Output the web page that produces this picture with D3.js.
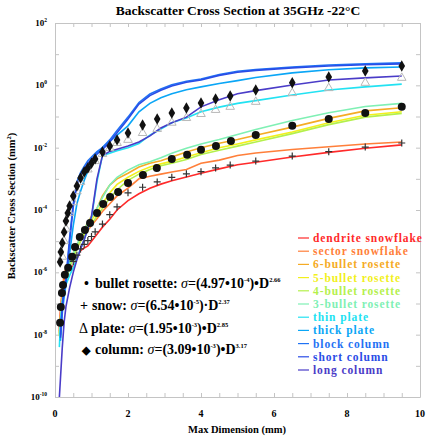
<!DOCTYPE html>
<html>
<head>
<meta charset="utf-8">
<script src="https://cdn.jsdelivr.net/npm/d3@7"></script>
<style>
  html, body { margin: 0; padding: 0; background: #fff; }
  svg { display: block; }
  text { font-family: "Liberation Serif", "Times New Roman", serif; }
</style>
</head>
<body>
<svg id="chart" width="431" height="439"></svg>
<script>
// ---- Data: log10 of backscatter cross section (mm^2) versus max dimension D (mm) ----
const lineD = [0.12,0.15,0.2,0.25,0.3,0.4,0.5,0.6,0.7,0.8,0.9,1.0,1.15,1.3,1.5,1.7,2.0,2.3,2.6,2.9,3.2,3.6,4.0,4.5,5.0,5.5,6.5,7.5,8.5,9.5];

const dendriteLog = [-7.9,-7.3,-6.6,-6.25,-6.05,-5.9,-5.78,-5.55,-5.3,-5.22,-5.15,-5.0,-4.78,-4.55,-4.3,-4.0,-3.7,-3.48,-3.3,-3.17,-3.06,-2.94,-2.82,-2.68,-2.55,-2.47,-2.3,-2.15,-2.02,-1.91];
const sectorLog   = [-7.8,-7.2,-6.5,-6.1,-5.85,-5.6,-5.4,-5.2,-5.0,-4.82,-4.65,-4.5,-4.28,-4.05,-3.8,-3.55,-3.3,-3.0,-2.92,-2.85,-2.78,-2.7,-2.5,-2.4,-2.25,-2.17,-2.06,-1.97,-1.88,-1.82];
const bullet6Log  = [-7.95,-7.45,-6.85,-6.45,-6.18,-5.75,-5.42,-5.15,-4.88,-4.62,-4.4,-4.2,-3.95,-3.55,-3.2,-3.0,-2.82,-2.62,-2.5,-2.42,-2.3,-2.14,-2.0,-1.86,-1.74,-1.6,-1.34,-1.06,-0.82,-0.72];
const bullet5Log  = [-8.0,-7.5,-6.9,-6.5,-6.22,-5.8,-5.48,-5.2,-4.94,-4.72,-4.5,-4.32,-4.08,-3.8,-3.45,-3.18,-2.95,-2.76,-2.62,-2.52,-2.44,-2.3,-2.16,-2.0,-1.88,-1.75,-1.5,-1.2,-0.96,-0.85];
const bullet4Log  = [-8.05,-7.55,-6.95,-6.55,-6.28,-5.85,-5.52,-5.25,-5.0,-4.8,-4.6,-4.45,-4.2,-3.95,-3.62,-3.35,-3.05,-2.85,-2.7,-2.58,-2.5,-2.38,-2.22,-2.08,-1.95,-1.82,-1.55,-1.26,-1.02,-0.9];
const bullet3Log  = [-8.0,-7.5,-6.9,-6.5,-6.2,-5.72,-5.4,-5.12,-4.85,-4.62,-4.42,-4.22,-3.95,-3.6,-3.2,-2.95,-2.72,-2.55,-2.45,-2.32,-2.18,-2.02,-1.88,-1.74,-1.58,-1.42,-1.13,-0.88,-0.68,-0.58];
const thinPlateLog  = [-8.4,-7.6,-7.0,-6.6,-6.4,-6.1,-5.85,-5.55,-5.25,-4.95,-4.6,-4.25,-3.1,-2.25,-2.18,-2.1,-2.0,-1.87,-1.6,-1.4,-1.2,-1.05,-0.85,-0.7,-0.58,-0.49,-0.31,-0.15,-0.05,0.04];
const thickPlateLog = [null,-8.2,-7.3,-6.8,-6.4,-5.4,-4.5,-3.8,-3.4,-3.05,-2.75,-2.5,-2.2,-2.0,-1.8,-1.6,-1.3,-0.85,-0.58,-0.4,-0.27,-0.14,-0.05,0.06,0.15,0.25,0.4,0.5,0.56,0.59];
const blockColLog   = [null,-8.0,-7.0,-6.5,-6.2,-4.9,-3.8,-3.1,-2.8,-2.6,-2.42,-2.3,-2.13,-2.0,-1.75,-1.45,-1.02,-0.55,-0.28,-0.12,0.02,0.13,0.2,0.35,0.45,0.51,0.59,0.65,0.69,0.72];
const shortColLog   = [null,-8.1,-7.1,-6.6,-6.3,-5.0,-3.9,-3.2,-2.88,-2.68,-2.5,-2.37,-2.2,-2.06,-1.82,-1.52,-1.08,-0.6,-0.33,-0.16,-0.02,0.1,0.17,0.32,0.42,0.48,0.56,0.62,0.66,0.69];
const longColLog    = [-10.0,-9.4,-8.4,-7.6,-7.1,-6.5,-6.0,-5.6,-5.25,-4.95,-4.6,-4.2,-3.0,-2.25,-2.12,-2.05,-1.95,-1.82,-1.62,-1.37,-1.2,-1.02,-0.69,-0.46,-0.27,-0.17,0.01,0.17,0.24,0.30];

const lineNames  = ["dendrite snowflake","sector snowflake","6-bullet rosette","5-bullet rosette","4-bullet rosette","3-bullet rosette","thin plate","thick plate","block column","short column","long column"];
const lineColors = ["#ff2a2a","#ff7f3a","#f5ab25","#f2f01c","#b4f04c","#7ff0b4","#22e2f2","#0aa6f6","#1f72f4","#2a4ce6","#4a3cc8"];
const lineLogs   = [dendriteLog,sectorLog,bullet6Log,bullet5Log,bullet4Log,bullet3Log,thinPlateLog,thickPlateLog,blockColLog,shortColLog,longColLog];

// averaged habit groups (markers)
const rosetteD   = [0.14,0.16,0.19,0.22,0.27,0.36,0.47,0.55,0.68,0.82,0.96,1.15,1.32,1.51,1.73,2.0,2.41,2.79,3.2,3.62,4.0,4.41,4.82,5.5,6.5,7.5,8.5,9.5];
const rosetteLog = [-7.62,-7.11,-6.66,-6.41,-6.08,-5.85,-5.5,-5.19,-4.87,-4.64,-4.42,-4.1,-3.81,-3.58,-3.42,-3.13,-2.88,-2.65,-2.36,-2.23,-2.07,-1.95,-1.79,-1.59,-1.3,-1.08,-0.89,-0.69];
const snowD      = [0.5,0.6,0.7,0.8,0.9,1.0,1.1,1.3,1.5,1.7,2.0,2.4,2.8,3.2,3.6,4.0,4.4,4.8,5.5,6.5,7.5,8.5,9.5];
const snowLog    = [-5.65,-5.45,-5.25,-5.1,-4.98,-4.85,-4.7,-4.45,-4.15,-3.9,-3.45,-3.27,-3.1,-2.95,-2.84,-2.77,-2.65,-2.56,-2.43,-2.27,-2.13,-1.98,-1.85];
const plateD     = [0.2,0.25,0.3,0.4,0.5,0.6,0.7,0.9,1.1,1.3,1.5,1.7,2.0,2.4,2.8,3.2,3.6,4.0,4.4,4.8,5.5,6.5,7.5,8.5,9.5];
const plateLog   = [-5.5,-5.0,-4.6,-4.1,-3.75,-3.4,-3.1,-2.7,-2.43,-2.2,-2.01,-1.85,-1.75,-1.53,-1.4,-1.2,-1.05,-0.92,-0.79,-0.69,-0.53,-0.25,-0.09,0.08,0.24];
const columnD    = [0.14,0.16,0.2,0.25,0.3,0.35,0.4,0.5,0.6,0.7,0.8,0.9,1.0,1.1,1.3,1.5,1.7,2.0,2.4,2.8,3.2,3.6,4.0,4.4,4.8,5.5,6.5,7.5,8.5,9.5];
const columnLog  = [-5.67,-5.35,-5.06,-4.71,-4.35,-4.1,-3.87,-3.55,-3.23,-2.97,-2.78,-2.65,-2.5,-2.36,-2.14,-1.95,-1.75,-1.53,-1.27,-1.08,-0.89,-0.73,-0.57,-0.44,-0.34,-0.15,0.08,0.27,0.46,0.62];

const xTicks      = [0,2,4,6,8,10];
const yTickPowers = [2,0,-2,-4,-6,-8,-10];

(function draw() {
  const svg = d3.select("#chart");
  const mLeft = 55, mRight = 420, mTop = 23, mBottom = 397;
  const x = d3.scaleLinear().domain([0,10]).range([mLeft,mRight]);
  const y = d3.scaleLog().domain([1e-10,1e2]).range([mBottom,mTop]);
  const yv = L => y(Math.pow(10, L));

  svg.append("defs").append("clipPath").attr("id","plotClip")
    .append("rect").attr("x",mLeft).attr("y",mTop).attr("width",mRight-mLeft).attr("height",mBottom-mTop);

  // frame and inward ticks
  const frameColor = "#c4c4c4";
  const minorX = d3.range(0, 10.001, 0.5);
  const decades = d3.range(-10, 3).map(p => Math.pow(10,p));
  svg.append("g").attr("transform",`translate(0,${mBottom})`)
    .call(d3.axisBottom(x).tickValues(minorX).tickSizeInner(-4).tickSizeOuter(0).tickFormat(""));
  svg.append("g").attr("transform",`translate(0,${mTop})`)
    .call(d3.axisTop(x).tickValues(minorX).tickSizeInner(-4).tickSizeOuter(0).tickFormat(""));
  svg.append("g").attr("transform",`translate(${mLeft},0)`)
    .call(d3.axisLeft(y).tickValues(decades).tickSizeInner(-4).tickSizeOuter(0).tickFormat(""));
  svg.append("g").attr("transform",`translate(${mRight},0)`)
    .call(d3.axisRight(y).tickValues(decades).tickSizeInner(-4).tickSizeOuter(0).tickFormat(""));
  svg.selectAll(".domain, .tick line").attr("stroke", frameColor);

  // tick labels
  svg.append("g").selectAll("text").data(xTicks).join("text")
    .attr("x", d => x(d)).attr("y", 417)
    .attr("text-anchor","middle").attr("font-size",10).attr("font-weight","bold")
    .text(d => d);
  const yl = svg.append("g").selectAll("text").data(yTickPowers).join("text")
    .attr("x", 47).attr("y", d => yv(d) + 3)
    .attr("text-anchor","end").attr("font-size",9).attr("font-weight","bold");
  yl.append("tspan").text("10");
  yl.append("tspan").attr("font-size",5.5).attr("dy",-4).text(d => d);

  // title and axis titles
  svg.append("text").attr("x",238).attr("y",15).attr("text-anchor","middle")
    .attr("font-size",13.5).attr("font-weight","bold").text("Backscatter Cross Section at 35GHz -22°C");
  svg.append("text").attr("x",237).attr("y",433).attr("text-anchor","middle")
    .attr("font-size",10.5).attr("font-weight","bold").text("Max Dimension (mm)");
  const ylab = svg.append("text").attr("transform","translate(15,206) rotate(-90)")
    .attr("text-anchor","middle").attr("font-size",10.5).attr("font-weight","bold");
  ylab.append("tspan").text("Backscatter Cross Section (mm");
  ylab.append("tspan").attr("font-size",6.5).attr("dy",-4).text("2");
  ylab.append("tspan").attr("dy",4).text(")");

  // curves
  const plot = svg.append("g").attr("clip-path","url(#plotClip)");
  const line = d3.line()
    .defined(d => d.L !== null)
    .x(d => x(d.D)).y(d => yv(d.L));
  lineLogs.forEach((vals, i) => {
    plot.append("path")
      .datum(lineD.map((D, k) => ({D, L: vals[k]})))
      .attr("d", line)
      .attr("fill","none").attr("stroke", lineColors[i]).attr("stroke-width",1.6);
  });

  // markers
  const pts = (Ds, Ls) => Ds.map((D,k) => ({D, L: Ls[k]}));
  plot.append("g").selectAll("path").data(pts(plateD, plateLog)).join("path")
    .attr("transform", d => `translate(${x(d.D)},${yv(d.L)})`)
    .attr("d", d3.symbol().type(d3.symbolTriangle).size(32))
    .attr("fill","none").attr("stroke","#b8b8b8").attr("stroke-width",1);
  plot.append("g").selectAll("path").data(pts(snowD, snowLog)).join("path")
    .attr("transform", d => `translate(${x(d.D)},${yv(d.L)})`)
    .attr("d", "M-3.5,0H3.5M0,-3.5V3.5")
    .attr("stroke","#333").attr("stroke-width",1.2);
  plot.append("g").selectAll("path").data(pts(columnD, columnLog)).join("path")
    .attr("transform", d => `translate(${x(d.D)},${yv(d.L)})`)
    .attr("d", d3.symbol().type(d3.symbolDiamond).size(38))
    .attr("fill","#111");
  plot.append("g").selectAll("circle").data(pts(rosetteD, rosetteLog)).join("circle")
    .attr("cx", d => x(d.D)).attr("cy", d => yv(d.L)).attr("r",4)
    .attr("fill","#111");

  // fit equations
  const eqs = [
    {sym:"•", name:"bullet rosette: ", a:"4.97", p:"-4", b:"2.66", dot:"•", sx:84, tx:95, yy:288},
    {sym:"+", name:"snow: ",           a:"6.54", p:"-5", b:"2.37", dot:"·", sx:80, tx:92, yy:310},
    {sym:"Δ", name:"plate: ",          a:"1.95", p:"-3", b:"2.85", dot:"•", sx:79, tx:91, yy:333},
    {sym:"◆", name:"column: ",         a:"3.09", p:"-3", b:"3.17", dot:"•", sx:82, tx:95, yy:354}
  ];
  const eg = svg.append("g").attr("font-size",14).attr("font-weight","bold");
  eqs.forEach(e => {
    eg.append("text").attr("x",e.sx).attr("y",e.yy).attr("font-weight", e.sym==="Δ" ? "normal" : "bold")
      .attr("font-size", e.sym==="◆" ? 11 : 14).text(e.sym);
    const t = eg.append("text").attr("x",e.tx).attr("y",e.yy);
    t.append("tspan").text(e.name);
    t.append("tspan").attr("font-style","italic").attr("font-weight","normal").text("σ");
    t.append("tspan").text("=(" + e.a + "•10");
    t.append("tspan").attr("font-size",6.5).attr("dy",-6).text(e.p);
    t.append("tspan").attr("dy",6).text(")" + e.dot + "D");
    t.append("tspan").attr("font-size",6.5).attr("dy",-6).text(e.b);
  });

  // legend
  const lg = svg.append("g");
  lineNames.forEach((n, i) => {
    const cy = 238 + i * 13.2;
    lg.append("line").attr("x1",298).attr("x2",309).attr("y1",cy).attr("y2",cy)
      .attr("stroke", lineColors[i]).attr("stroke-width",1.2);
    lg.append("text").attr("x",313).attr("y",cy + 4)
      .attr("font-size",11.5).attr("letter-spacing",0.9).attr("font-weight","bold")
      .attr("fill", lineColors[i]).text(n);
  });
})();
</script>
</body>
</html>
